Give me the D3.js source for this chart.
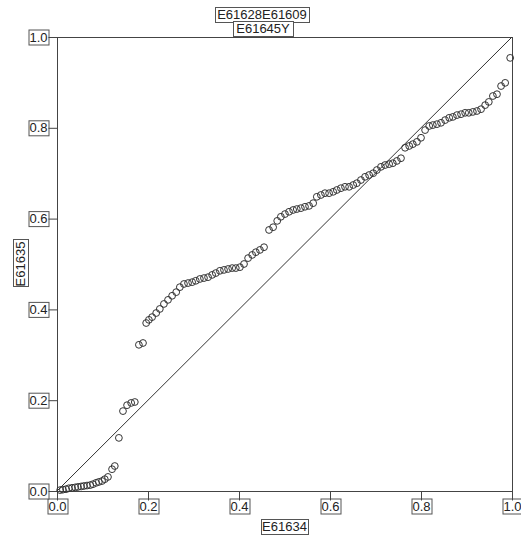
<!DOCTYPE html>
<html>
<head>
<meta content="text/html;charset=utf-8" http-equiv="Content-Type">
<title>P-P plot</title>
<script src="https://d3js.org/d3.v7.min.js"></script>
<style>
  body { margin: 0; background: #fff; }
  text { font-family: "Liberation Sans", Arial, sans-serif; font-size: 13px; fill: #222; }
</style>
</head>
<body>
<script>
// labels as shown in the picture
const titleLines = ["E61628E61609", "E61645Y"];
const xTitle = "E61634";
const yTitle = "E61635";
const xTicks = [0, 0.2, 0.4, 0.6, 0.8, 1.0];
const yTicks = [0, 0.2, 0.4, 0.6, 0.8, 1.0];

const obsProb = [0.007,0.013,0.020,0.026,0.033,0.040,0.046,0.053,0.059,0.066,0.073,0.079,0.086,0.092,0.099,0.105,0.112,
  0.121,0.127,0.136,0.145,0.154,0.163,0.171,0.180,0.189,
  0.196,0.202,0.209,0.218,0.226,0.235,0.244,0.253,0.262,0.270,0.279,0.288,0.297,0.305,0.314,0.323,0.332,0.341,0.349,
  0.358,0.367,0.376,0.385,0.393,0.402,0.411,0.420,0.429,0.437,0.446,0.455,0.466,0.475,0.484,0.492,0.501,0.510,0.519,
  0.527,0.536,0.545,0.554,0.563,0.571,0.580,0.589,0.598,0.607,0.615,0.624,0.633,0.642,0.651,0.659,0.668,0.677,0.686,
  0.695,0.703,0.712,0.721,0.730,0.738,0.747,0.756,0.765,0.774,0.782,0.791,0.800,0.809,0.818,0.826,0.835,0.844,0.853,
  0.862,0.870,0.879,0.888,0.897,0.905,0.914,0.923,0.932,0.941,0.949,0.958,0.967,0.976,0.985,0.996];
const expProb = [0.002,0.003,0.004,0.006,0.007,0.008,0.009,0.010,0.011,0.012,0.013,0.015,0.018,0.020,0.022,0.026,0.031,
  0.048,0.055,0.117,0.176,0.189,0.194,0.196,0.322,0.326,
  0.370,0.377,0.383,0.392,0.401,0.412,0.421,0.430,0.438,0.449,0.456,0.458,0.460,0.463,0.467,0.469,0.471,0.476,0.480,
  0.485,0.487,0.489,0.491,0.491,0.493,0.500,0.513,0.520,0.526,0.531,0.537,0.575,0.581,0.595,0.604,0.610,0.615,0.619,
  0.621,0.623,0.626,0.628,0.634,0.648,0.652,0.656,0.656,0.659,0.663,0.667,0.670,0.670,0.674,0.678,0.685,0.692,0.696,
  0.700,0.707,0.714,0.718,0.720,0.722,0.727,0.733,0.756,0.760,0.764,0.769,0.778,0.795,0.804,0.806,0.808,0.811,0.817,
  0.822,0.824,0.828,0.830,0.833,0.833,0.835,0.837,0.841,0.850,0.857,0.870,0.874,0.892,0.899,0.954];

const W = 521, H = 535;
const x = d3.scaleLinear().domain([0, 1]).range([57, 512]);
const y = d3.scaleLinear().domain([0, 1]).range([491, 37]);

const svg = d3.select("body").append("svg")
  .attr("width", W).attr("height", H);

// draws a thin frame around a text node
function boxIt(sel, pad) {
  sel.each(function () {
    const b = this.getBBox();
    d3.select(this.parentNode).insert("rect", function () { return this.firstChild; })
      .attr("x", Math.round(b.x - pad) + 0.5)
      .attr("y", Math.round(b.y) + 0.5)
      .attr("width", Math.round(b.width + pad * 2))
      .attr("height", Math.round(b.height))
      .attr("fill", "#fff")
      .attr("stroke", "#555")
      .attr("stroke-width", 1);
  });
}

// plot frame
svg.append("rect")
  .attr("x", x(0) + 0.5).attr("y", y(1) + 0.5)
  .attr("width", x(1) - x(0)).attr("height", y(0) - y(1))
  .attr("fill", "none").attr("stroke", "#444");

// diagonal reference line
svg.append("line")
  .attr("x1", x(0)).attr("y1", y(0))
  .attr("x2", x(1)).attr("y2", y(1))
  .attr("stroke", "#333").attr("stroke-width", 1);

// axes
const xAxis = svg.append("g")
  .attr("transform", "translate(0," + (y(0) + 0.5) + ")")
  .call(d3.axisBottom(x).tickValues(xTicks).tickFormat(d3.format(".1f")).tickSize(9).tickPadding(1));
const yAxis = svg.append("g")
  .attr("transform", "translate(" + (x(0) + 0.5) + ",0)")
  .call(d3.axisLeft(y).tickValues(yTicks).tickFormat(d3.format(".1f")).tickSize(9).tickPadding(1));

[xAxis, yAxis].forEach(a => {
  a.select(".domain").remove();
  a.selectAll("line").attr("stroke", "#444");
  a.selectAll("text").style("font-size", "13px").attr("fill", "#222");
  a.selectAll(".tick").each(function () {
    boxIt(d3.select(this).select("text"), 1);
  });
});

// points
svg.append("g").selectAll("circle")
  .data(obsProb.map((v, i) => [v, expProb[i]]))
  .join("circle")
  .attr("cx", d => x(d[0]))
  .attr("cy", d => y(d[1]))
  .attr("r", 3.4)
  .attr("fill", "none")
  .attr("stroke", "#333")
  .attr("stroke-width", 1);

// title
const t1 = svg.append("g");
t1.append("text").attr("x", 262).attr("y", 19).attr("text-anchor", "middle").text(titleLines[0]);
boxIt(t1.select("text"), 2);
const t2 = svg.append("g");
t2.append("text").attr("x", 263).attr("y", 33).attr("text-anchor", "middle").text(titleLines[1]);
boxIt(t2.select("text"), 3);

// axis titles
const xt = svg.append("g");
xt.append("text").attr("x", (x(0) + x(1)) / 2).attr("y", 531).attr("text-anchor", "middle").text(xTitle);
boxIt(xt.select("text"), 1);

const yt = svg.append("g").attr("transform", "translate(25," + ((y(0) + y(1)) / 2) + ") rotate(-90)");
yt.append("text").attr("x", 0).attr("y", 0).attr("text-anchor", "middle").text(yTitle);
boxIt(yt.select("text"), 1);
</script>
</body>
</html>
